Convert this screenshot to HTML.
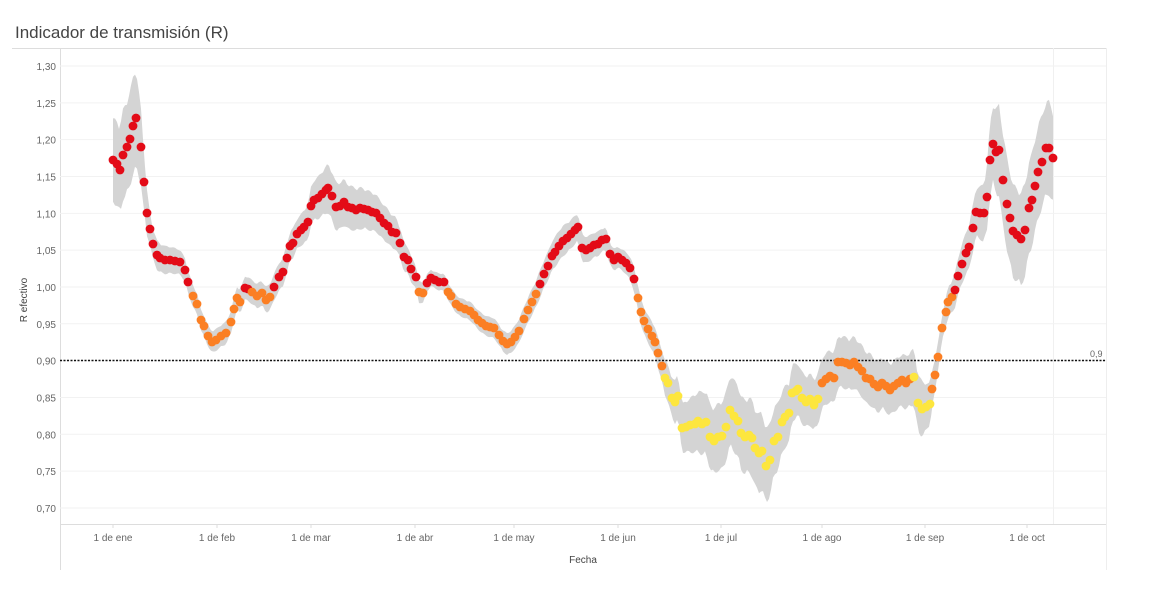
<!DOCTYPE html>
<html><head><meta charset="utf-8"><style>
body{margin:0;background:#fff;width:1150px;height:595px;overflow:hidden;font-family:"Liberation Sans",sans-serif}
</style></head><body>
<svg id="s" width="1150" height="595" xmlns="http://www.w3.org/2000/svg" font-family="Liberation Sans, sans-serif">
<text x="15" y="38" font-size="17" fill="#444">Indicador de transmisión (R)</text>
<line x1="12" y1="48.5" x2="1106" y2="48.5" stroke="#ddd"/>
<line x1="60.5" y1="48" x2="60.5" y2="570" stroke="#ddd"/>
<line x1="1106.5" y1="48" x2="1106.5" y2="570" stroke="#eee"/>
<line x1="1053.5" y1="48" x2="1053.5" y2="524" stroke="#f0f0f0"/>
<g id="grid"></g>
<g id="band"></g>
<line x1="60" y1="360.5" x2="1106" y2="360.5" stroke="#111" stroke-width="1.5" stroke-dasharray="2,1.5"/>
<text x="1090" y="357" font-size="9" fill="#666">0,9</text>
<g id="dots"></g>
<line x1="60" y1="524.5" x2="1106" y2="524.5" stroke="#ddd"/>
<g id="xl" font-size="10" fill="#666" text-anchor="middle"></g>
<text x="583" y="563" font-size="10" fill="#444" text-anchor="middle">Fecha</text>
<text transform="translate(27,300) rotate(-90)" font-size="10" fill="#444" text-anchor="middle">R efectivo</text>
</svg>
<script>
(function(){
var NS="http://www.w3.org/2000/svg";
function el(t,a,p,txt){var e=document.createElementNS(NS,t);for(var k in a)e.setAttribute(k,a[k]);if(txt)e.textContent=txt;document.getElementById(p).appendChild(e);return e;}
for(var i=0;i<=12;i++){var v=1.30-i*0.05,y=66+i*36.83;
 el("line",{x1:60,y1:y,x2:1106,y2:y,stroke:"#f2f2f2"},"grid");
 el("text",{x:56,y:y+4,"font-size":10,fill:"#666","text-anchor":"end"},"grid",v.toFixed(2).replace(".",","));}
var months=[["1 de ene",113],["1 de feb",217],["1 de mar",311],["1 de abr",415],["1 de may",514],["1 de jun",618],["1 de jul",721],["1 de ago",822],["1 de sep",925],["1 de oct",1027]];
months.forEach(function(m){el("text",{x:m[1],y:541},"xl",m[0]);el("line",{x1:m[1],y1:524,x2:m[1],y2:528,stroke:"#ddd"},"grid");});
var P=[113,160,117,164,120,170,123,155,127,147,130,139,133,126,136,118,141,147,144,182,147,213,150,229,153,244,157,255,160,258,165,260,170,260,175,261,180,262,185,270,188,282,193,296,197,304,201,320,204,326,208,336,212,342,216,340,221,336,226,333,231,322,234,309,237,298,240,302,245,288,248,289,252,292,257,296,262,293,266,300,270,297,274,287,279,277,283,272,287,258,290,246,293,243,297,234,301,230,304,227,308,222,311,206,314,200,318,198,322,194,326,190,328,188,332,196,336,207,340,206,344,202,348,207,352,208,356,210,360,208,364,209,368,210,372,212,376,213,380,218,384,223,388,226,392,232,396,233,400,243,404,257,408,260,411,269,416,277,419,292,423,293,427,283,431,278,435,280,439,282,444,282,448,292,451,296,456,304,460,307,465,309,470,311,474,315,478,320,482,323,486,326,490,327,494,328,499,335,503,341,507,344,511,342,515,337,519,331,524,319,528,310,532,302,536,294,540,284,544,274,548,266,552,256,555,252,559,246,563,241,567,238,571,234,575,230,578,227,582,248,586,250,590,248,594,245,598,244,602,240,606,239,610,254,614,260,618,257,622,260,626,263,630,268,634,279,638,298,641,312,644,321,648,329,652,336,655,342,658,353,662,366,665,378,668,383,672,398,675,402,678,396,682,428,686,427,690,425,695,424,698,421,702,424,706,422,710,437,714,441,718,437,722,436,726,427,730,410,734,416,738,421,741,433,745,437,749,435,752,438,755,448,759,453,762,451,766,466,770,460,774,441,778,437,782,422,785,417,789,413,792,393,796,391,798,389,802,398,806,402,810,399,814,405,818,399,822,383,826,379,830,376,834,378,838,362,842,362,846,363,850,365,854,362,858,367,862,371,866,378,870,379,874,384,878,387,882,383,886,386,890,390,894,386,898,383,902,380,906,383,910,379,914,377,918,403,922,409,926,407,930,404,932,389,935,375,938,357,942,328,946,312,948,302,952,297,955,290,958,276,962,264,966,253,969,247,973,228,976,212,980,213,984,213,987,197,990,160,993,144,996,152,999,150,1003,180,1007,204,1010,218,1013,231,1017,235,1021,239,1025,230,1029,208,1032,200,1035,186,1038,172,1042,162,1046,148,1049,148,1053,158];
var H=[113,40,136,48,150,15,200,10,260,12,300,15,330,24,400,15,430,8,500,10,560,15,620,10,660,15,700,30,760,38,800,25,850,25,900,25,920,28,940,12,980,25,1000,45,1053,45];
function interp(A,x){for(var i=0;i<A.length-2;i+=2){if(x<=A[i+2]){var t=(x-A[i])/(A[i+2]-A[i]);return A[i+1]+t*(A[i+3]-A[i+1]);}}return A[A.length-1];}
var up=[],dn=[];
for(var x=113;x<=1053;x+=2){var y=interp(P,x),h=interp(H,x)*(0.92+0.15*Math.abs(Math.sin(x*0.37)));up.push(x+","+(y-h).toFixed(1));dn.unshift(x+","+(y+h).toFixed(1));}
el("polygon",{points:up.concat(dn).join(" "),fill:"#d4d4d4"},"band");
for(var i=0;i<P.length;i+=2){var x=P[i],y=P[i+1],c;
 if((x>=665&&x<=818)||(x>=914&&x<=930))c="#fde63e";
 else if(y>=291)c="#fb7f23";
 else c="#e30b17";
 el("circle",{cx:x,cy:y,r:4.4,fill:c},"dots");}
})();
</script>
</body></html>
